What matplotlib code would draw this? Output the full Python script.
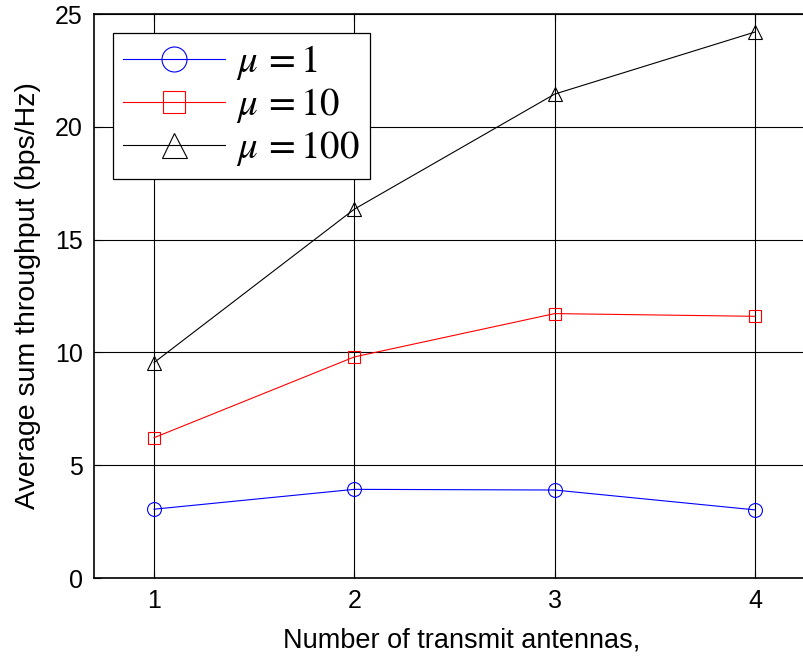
import numpy as np
import matplotlib
matplotlib.use('Agg')
import matplotlib.pyplot as plt

plt.rcParams['font.family'] = ['Liberation Sans', 'DejaVu Sans']
plt.rcParams['mathtext.fontset'] = 'stix'

# data
antennas = [1, 2, 3, 4]
mu_1 = [3.05, 3.93, 3.90, 3.02]
mu_10 = [6.22, 9.80, 11.72, 11.60]
mu_100 = [9.55, 16.35, 21.45, 24.2]
labels = [r'$\mu\,=1$', r'$\mu\,=10$', r'$\mu\,=100$']

fig = plt.figure(figsize=(8.04, 6.65), dpi=100)
ax = fig.add_axes([94 / 804, 1 - 578 / 665, (815 - 94) / 804, (578 - 14) / 665])

ax.plot(antennas, mu_1, color='b', lw=0.8, marker='o', ms=10, mfc='none',
        mec='b', mew=0.8, label=labels[0])
ax.plot(antennas, mu_10, color='r', lw=0.8, marker='s', ms=9, mfc='none',
        mec='r', mew=0.8, label=labels[1])
ax.plot(antennas, mu_100, color='k', lw=0.8, marker='^', ms=10, mfc='none',
        mec='k', mew=0.8, label=labels[2])

ax.set_xlim(0.7, 4.3)
ax.set_ylim(0, 25)
ax.set_xticks([1, 2, 3, 4])
ax.set_yticks([0, 5, 10, 15, 20, 25])
ax.grid(True, color='k', lw=0.8, ls='-')
ax.set_axisbelow(True)
ax.tick_params(direction='in', length=5, labelsize=18, top=True, right=True, pad=8)
for s in ax.spines.values():
    s.set_linewidth(1.2)

ax.set_xlabel('Number of transmit antennas,', fontsize=19.5)
ax.xaxis.set_label_coords(0.51, -0.088)
ax.set_ylabel('Average sum throughput (bps/Hz)', fontsize=20.5, labelpad=10)

leg = ax.legend(loc='upper left', bbox_to_anchor=(19 / 721, 1 - 19 / 564),
                fontsize=28, markerscale=1.8, handlelength=2.6,
                frameon=True, fancybox=False, framealpha=1, edgecolor='k',
                borderpad=0.27, labelspacing=0.1, handletextpad=0.3,
                borderaxespad=0)
leg.get_frame().set_linewidth(0.9)

fig.savefig('out.png', dpi=100)
